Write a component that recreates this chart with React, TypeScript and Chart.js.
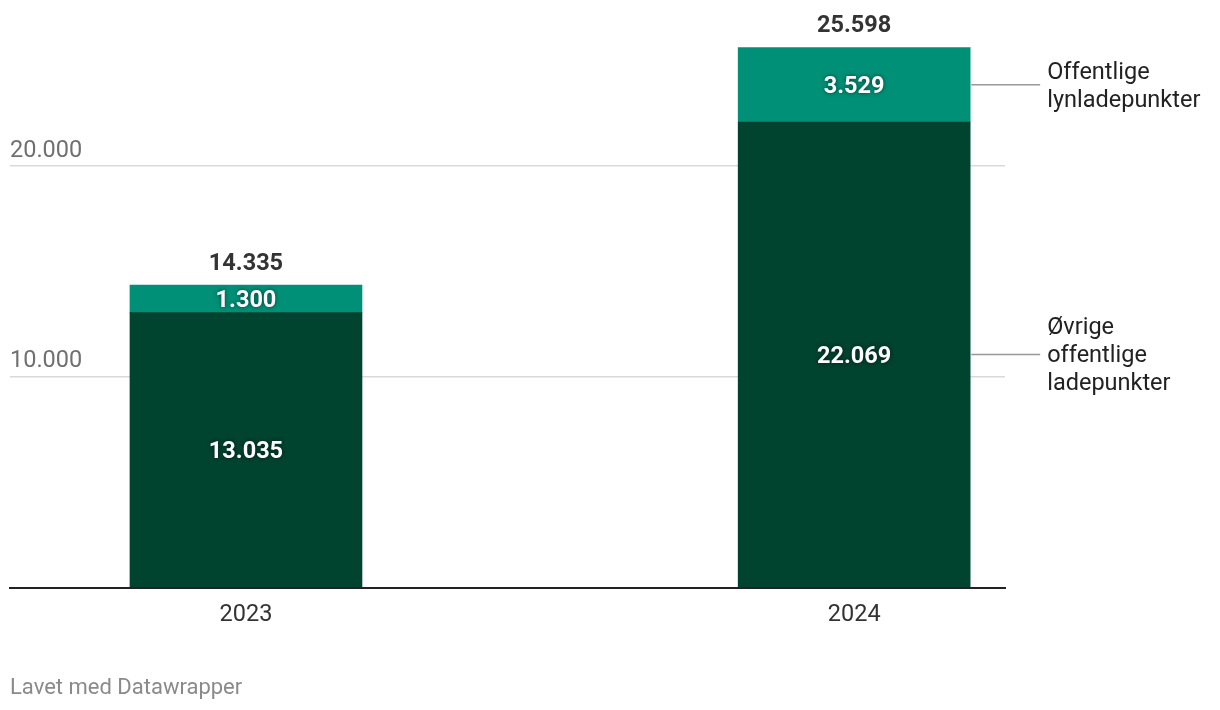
import React, { useEffect, useRef } from "react";
import { Chart, registerables } from "chart.js";

Chart.register(...registerables);

const years = ["2023", "2024"];
const otherPoints = [13035, 22069];
const fastPoints = [1300, 3529];
const seriesLabels = [
  ["Øvrige", "offentlige", "ladepunkter"],
  ["Offentlige", "lynladepunkter"],
];
const seriesColors = ["#00432f", "#009077"];
const yTickValues = [0, 10000, 20000];
const footerText = "Lavet med Datawrapper";

const FONT = "Roboto, 'Noto Sans', sans-serif";

function fmt(v: number): string {
  return String(Math.round(v)).replace(/\B(?=(\d{3})+(?!\d))/g, ".");
}

export default function App() {
  const ref = useRef<HTMLCanvasElement | null>(null);

  useEffect(() => {
    document.body.style.margin = "0";
    const canvas = ref.current;
    if (!canvas) return;

    const labelsPlugin = {
      id: "dwLabels",
      afterDatasetsDraw(chart: any) {
        const ctx = chart.ctx;
        const metas = chart.data.datasets.map((_: any, i: number) => chart.getDatasetMeta(i));
        ctx.save();
        // inner value labels
        metas.forEach((meta: any, di: number) => {
          meta.data.forEach((el: any, idx: number) => {
            const v = chart.data.datasets[di].data[idx].y;
            const cy = (el.y + el.base) / 2;
            ctx.font = `bold 23.5px ${FONT}`;
            ctx.textAlign = "center";
            ctx.textBaseline = "middle";
            ctx.shadowColor = "rgba(0,0,0,0.6)";
            ctx.shadowBlur = 4;
            ctx.fillStyle = "#ffffff";
            ctx.fillText(fmt(v), el.x, cy + 2.5);
            ctx.shadowBlur = 0;
            ctx.shadowColor = "transparent";
          });
        });
        // totals
        const top = metas[metas.length - 1];
        top.data.forEach((el: any, idx: number) => {
          const total = chart.data.datasets.reduce((s: number, d: any) => s + d.data[idx].y, 0);
          ctx.font = `bold 23.5px ${FONT}`;
          ctx.textAlign = "center";
          ctx.textBaseline = "middle";
          ctx.fillStyle = "#333333";
          ctx.fillText(fmt(total), el.x, el.y - 21);
        });
        // right-side series labels with connectors
        metas.forEach((meta: any, di: number) => {
          const el = meta.data[meta.data.length - 1];
          const cy = (el.y + el.base) / 2;
          const right = el.x + el.width / 2;
          ctx.strokeStyle = "#999999";
          ctx.lineWidth = 1.5;
          ctx.beginPath();
          ctx.moveTo(right + 1, cy);
          ctx.lineTo(right + 70, cy);
          ctx.stroke();
          const lines = seriesLabels[di];
          const lh = 28;
          const startY = cy + 2 - ((lines.length - 1) * lh) / 2;
          ctx.font = `23.5px ${FONT}`;
          ctx.textAlign = "left";
          ctx.textBaseline = "middle";
          ctx.fillStyle = "#222222";
          lines.forEach((t, li) => ctx.fillText(t, right + 77, startY + li * lh));
        });
        // footer
        ctx.font = `22px ${FONT}`;
        ctx.textAlign = "left";
        ctx.textBaseline = "middle";
        ctx.fillStyle = "#8a8a8a";
        ctx.fillText(footerText, 10, 688.5);
        ctx.restore();
      },
    };

    const chart = new Chart(canvas, {
      type: "bar",
      data: {
        datasets: [
          {
            label: seriesLabels[0].join(" "),
            data: otherPoints.map((v, i) => ({ x: i, y: v })),
            backgroundColor: seriesColors[0],
            barThickness: 232,
            borderWidth: 0,
          },
          {
            label: seriesLabels[1].join(" "),
            data: fastPoints.map((v, i) => ({ x: i, y: v })),
            backgroundColor: seriesColors[1],
            barThickness: 232,
            borderWidth: 0,
          },
        ],
      },
      options: {
        animation: false,
        responsive: false,
        maintainAspectRatio: false,
        layout: { padding: { left: 10, right: 215, top: 18, bottom: 0 } },
        plugins: {
          legend: { display: false },
          tooltip: { enabled: false },
        },
        scales: {
          x: {
            type: "linear",
            stacked: true,
            offset: false,
            min: -0.388,
            max: 1.248,
            grid: { display: false, drawTicks: false, offset: false },
            border: { display: true, color: "#222222", width: 2 },
            afterBuildTicks: (scale: any) => {
              scale.ticks = years.map((_, i) => ({ value: i }));
            },
            afterFit: (scale: any) => {
              scale.height = 710 - 587.5;
            },
            ticks: {
              padding: 14,
              color: "#333333",
              font: { family: FONT, size: 23.5 },
              callback: (v: any) => years[Math.round(Number(v))] ?? "",
            },
          },
          y: {
            type: "linear",
            stacked: true,
            min: 0,
            max: 27000,
            afterBuildTicks: (scale: any) => {
              scale.ticks = yTickValues.map((v) => ({ value: v }));
            },
            afterFit: (scale: any) => {
              scale.width = 0;
            },
            grid: {
              drawTicks: false,
              lineWidth: 1.5,
              color: (c: any) => (c.tick && c.tick.value === 0 ? "rgba(0,0,0,0)" : "#d9d9d9"),
            },
            border: { display: false },
            ticks: {
              mirror: true,
              padding: 0,
              labelOffset: -15,
              color: "#707070",
              font: { family: FONT, size: 23.5 },
              callback: (v: any) => (Number(v) === 0 ? "" : fmt(Number(v))),
            },
          },
        },
      },
      plugins: [labelsPlugin],
    });

    return () => chart.destroy();
  }, []);

  return (
    <div style={{ position: "absolute", left: 0, top: 0, width: 1220, height: 710, background: "#fff" }}>
      <canvas ref={ref} width={1220} height={710} style={{ width: 1220, height: 710, display: "block" }} />
    </div>
  );
}
